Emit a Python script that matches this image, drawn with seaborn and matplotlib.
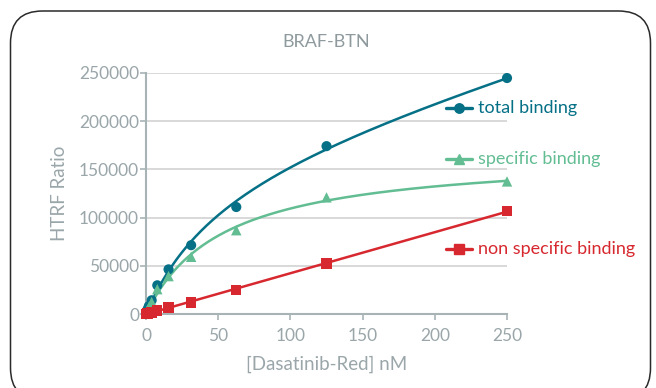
import numpy as np
import pandas as pd
import matplotlib
matplotlib.use("Agg")
import matplotlib.pyplot as plt
import seaborn as sns
from matplotlib.patches import FancyBboxPatch

# ---- data ----
conc_nM = [0, 0.98, 1.95, 3.9, 7.8, 15.6, 31.25, 62.5, 125, 250]
total_binding = [1500, 5000, 8500, 14500, 30000, 46500, 71500, 111000, 174000, 244500]
specific_binding = [1000, 4300, 7400, 12700, 26000, 39500, 59500, 87000, 121000, 137500]
nonspecific_binding = [500, 700, 1100, 1800, 4000, 7000, 12000, 25000, 52500, 107000]

series_names = ["total binding", "specific binding", "non specific binding"]
title = "BRAF-BTN"
xlabel = "[Dasatinib-Red] nM"
ylabel = "HTRF Ratio"
xticks = [0, 50, 100, 150, 200, 250]
yticks = [0, 50000, 100000, 150000, 200000, 250000]

# ---- fits: nonspecific linear through origin, specific one-site hyperbola ----
x = np.array(conc_nM, float)
ns = np.array(nonspecific_binding, float)
sp = np.array(specific_binding, float)
ns_slope = float((x * ns).sum() / (x * x).sum())
best = None
for kd in np.linspace(1, 200, 2000):
    f = x / (kd + x)
    bmax = float((f * sp).sum() / (f * f).sum())
    err = ((bmax * f - sp) ** 2).sum()
    if best is None or err < best[0]:
        best = (err, kd, bmax)
_, kd_fit, bmax_fit = best
xf = np.linspace(0, 250, 400)
sp_fit = bmax_fit * xf / (kd_fit + xf)
ns_fit = ns_slope * xf
tot_fit = sp_fit + ns_fit

colors = {"total binding": "#057086", "specific binding": "#62bd93", "non specific binding": "#d7282f"}
markers = {"total binding": "o", "specific binding": "^", "non specific binding": "s"}
msize = {"total binding": 7.3, "specific binding": 7.5, "non specific binding": 7.5}

pts = pd.DataFrame({
    "conc": conc_nM * 3,
    "value": total_binding + specific_binding + nonspecific_binding,
    "series": [series_names[0]] * len(conc_nM) + [series_names[1]] * len(conc_nM) + [series_names[2]] * len(conc_nM),
})
fits = pd.DataFrame({
    "conc": np.concatenate([xf, xf, xf]),
    "value": np.concatenate([tot_fit, sp_fit, ns_fit]),
    "series": [series_names[0]] * len(xf) + [series_names[1]] * len(xf) + [series_names[2]] * len(xf),
})

sns.set_style("white")
plt.rcParams["font.family"] = ["Lato", "DejaVu Sans"]
text_gray = "#9aa6a9"
axis_gray = "#a8b3b5"

fig = plt.figure(figsize=(6.56, 3.88), dpi=100)
ax = fig.add_axes([0.2226, 0.19, 0.5503, 0.6226])

ax.yaxis.grid(True, color="#d2d2d2", lw=1.2)
ax.xaxis.grid(False)
ax.set_axisbelow(True)

for name in series_names:
    sub = fits[fits.series == name]
    sns.lineplot(data=sub, x="conc", y="value", ax=ax, color=colors[name], lw=1.8,
                 legend=False, clip_on=False, zorder=3)
    sp_df = pts[pts.series == name]
    sns.scatterplot(data=sp_df, x="conc", y="value", ax=ax, color=colors[name],
                    marker=markers[name], s=msize[name] ** 2, edgecolor="none",
                    legend=False, clip_on=False, zorder=4)

ax.set_xlim(0, 250)
ax.set_ylim(0, 250000)
ax.set_xticks(xticks)
ax.set_yticks(yticks)
ax.set_xticklabels([str(t) for t in xticks])
ax.set_yticklabels([str(t) for t in yticks])
ax.tick_params(axis="both", colors=axis_gray, labelcolor=text_gray, labelsize=12.5,
               length=4, width=1.2, direction="out", bottom=True, left=True)
ax.tick_params(axis="x", pad=6)
ax.tick_params(axis="y", pad=1)
for s in ["top", "right"]:
    ax.spines[s].set_visible(False)
for s in ["left", "bottom"]:
    ax.spines[s].set_color(axis_gray)
    ax.spines[s].set_linewidth(1.5)

ax.set_xlabel(xlabel, color=text_gray, fontsize=13.5, labelpad=8)
ax.set_ylabel(ylabel, color=text_gray, fontsize=13.5, labelpad=8)
fig.text(0.497, 0.893, title, ha="center", va="center", color="#8e9a9d", fontsize=13)

# inline legend entries
legend_y = {"total binding": 0.855, "specific binding": 0.642, "non specific binding": 0.269}
for name in series_names:
    yy = legend_y[name]
    ax.plot([0.831, 0.867, 0.903], [yy, yy, yy], transform=ax.transAxes, color=colors[name],
            lw=2.4, marker=markers[name], markevery=[1], ms=msize[name] - 0.5, clip_on=False, zorder=5)
    ax.text(0.92, yy, name, transform=ax.transAxes, color=colors[name], fontsize=13,
            va="center", ha="left", clip_on=False)

# rounded outer frame
frame = FancyBboxPatch((10.5, -12), 640, 389, boxstyle="round,pad=0,rounding_size=32",
                       transform=None, fill=False, ec="#2a2a2a", lw=1.1)
fig.patches.append(frame)

fig.savefig("out.png", dpi=100)
